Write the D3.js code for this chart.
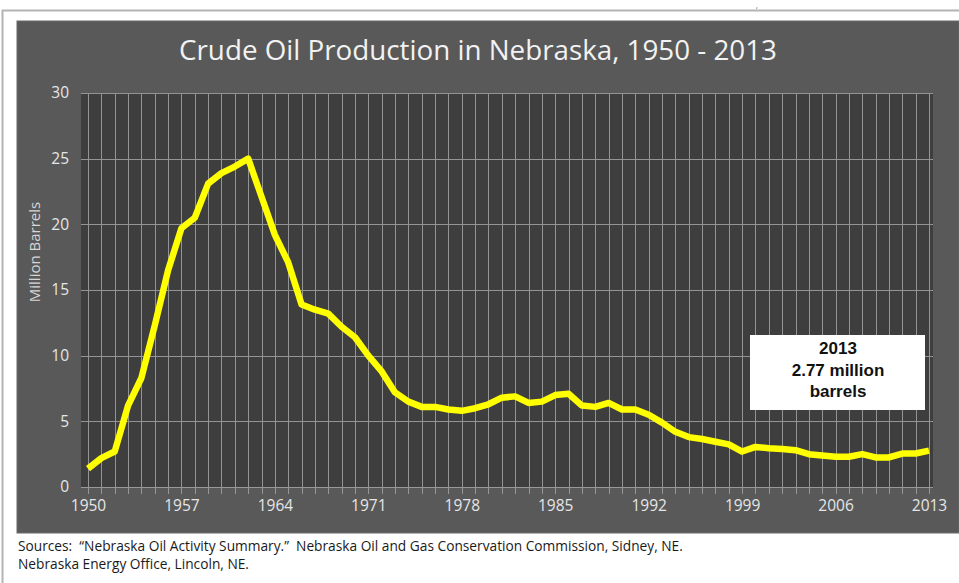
<!DOCTYPE html>
<html>
<head>
<meta charset="utf-8">
<script src="https://cdn.jsdelivr.net/npm/d3@7"></script>
<style>
  html, body { margin: 0; padding: 0; background: #ffffff; }
  svg { display: block; }
  text.pre { white-space: pre; }
</style>
</head>
<body>
<svg id="chart" width="959" height="583"></svg>
<script>
// Annual crude oil production in Nebraska, million barrels
const years = d3.range(1950, 2014);
const production = [
  1.4, 2.2, 2.7, 6.2, 8.3, 12.3, 16.5, 19.7, 20.5, 23.1,
  23.9, 24.4, 25.0, 22.1, 19.2, 17.1, 13.9, 13.5, 13.2, 12.2,
  11.4, 10.0, 8.8, 7.2, 6.5, 6.1, 6.1, 5.9, 5.8, 6.0,
  6.3, 6.8, 6.9, 6.4, 6.5, 7.0, 7.1, 6.2, 6.1, 6.4,
  5.9, 5.9, 5.5, 4.9, 4.2, 3.8, 3.65, 3.45, 3.25, 2.7,
  3.05, 2.95, 2.9, 2.8, 2.5, 2.4, 2.3, 2.3, 2.5, 2.25,
  2.25, 2.55, 2.55, 2.77
];
const yTickValues = [0, 5, 10, 15, 20, 25, 30];
const xTickYears = [1950, 1957, 1964, 1971, 1978, 1985, 1992, 1999, 2006, 2013];
const titleText = "Crude Oil Production in Nebraska, 1950 - 2013";
const yAxisTitle = "Million Barrels";
const calloutYear = 2013;
const calloutValue = production[production.length - 1];
const calloutLines = [String(calloutYear), calloutValue + " million", "barrels"];
const sourceLines = [
  "Sources:  \u201CNebraska Oil Activity Summary.\u201D  Nebraska Oil and Gas Conservation Commission, Sidney, NE.",
  "Nebraska Energy Office, Lincoln, NE."
];

const data = years.map((y, i) => ({ year: y, value: production[i] }));

const svg = d3.select("#chart");

// shrink or grow a text element's font size so it spans a given width
function fitWidth(sel, target) {
  const node = sel.node();
  const size = parseFloat(sel.attr("font-size"));
  const len = node.getComputedTextLength();
  if (len > 0) sel.attr("font-size", (size * target / len).toFixed(2));
  return sel;
}

// page frame
svg.append("path")
  .attr("d", "M2.5,583 L2.5,10.5 L959,10.5")
  .attr("fill", "none")
  .attr("stroke", "#b3b3b3")
  .attr("stroke-width", 2);

svg.append("text")
  .attr("x", 756).attr("y", 8)
  .attr("font-family", "Open Sans, sans-serif")
  .attr("font-size", 7)
  .attr("fill", "#444")
  .text(",");

// chart area
svg.append("rect")
  .attr("x", 17).attr("y", 21)
  .attr("width", 959 - 17).attr("height", 533 - 21)
  .attr("fill", "#595959")
  .attr("stroke", "#6a6a6a")
  .attr("stroke-width", 1);

// scales
const x = d3.scaleLinear().domain([1950, 2013]).range([88, 929]);
const y = d3.scaleLinear().domain([0, 30]).range([487, 93]);

// plot area
svg.append("rect")
  .attr("x", 81).attr("y", y(30))
  .attr("width", 933 - 81).attr("height", y(0) - y(30))
  .attr("fill", "#3e3e3e");

// gridlines
const grid = svg.append("g").attr("stroke", "#a3a3a3").attr("stroke-width", 1).attr("opacity", 0.85);
grid.selectAll("line.v")
  .data(years)
  .join("line")
  .attr("class", "v")
  .attr("x1", d => Math.round(x(d)) + 0.5)
  .attr("x2", d => Math.round(x(d)) + 0.5)
  .attr("y1", y(30))
  .attr("y2", y(0) + 7);
grid.selectAll("line.h")
  .data(yTickValues)
  .join("line")
  .attr("class", "h")
  .attr("x1", 81)
  .attr("x2", 933)
  .attr("y1", d => Math.round(y(d)) + 0.5)
  .attr("y2", d => Math.round(y(d)) + 0.5);

// y axis labels
const yAxis = d3.axisLeft(y).tickValues(yTickValues).tickSize(0).tickPadding(0);
const yG = svg.append("g").attr("transform", "translate(69,0)").call(yAxis);
yG.select(".domain").remove();
yG.selectAll("text")
  .attr("font-family", "Open Sans, sans-serif")
  .attr("font-size", 15.5)
  .attr("fill", "#e6e6e6");

// x axis labels
const xAxis = d3.axisBottom(x).tickValues(xTickYears).tickFormat(d3.format("d")).tickSize(0).tickPadding(0);
const xG = svg.append("g").attr("transform", "translate(0,500)").call(xAxis);
xG.select(".domain").remove();
xG.selectAll("text")
  .attr("dy", "0.71em")
  .attr("font-family", "Open Sans, sans-serif")
  .attr("font-size", 15.5)
  .attr("fill", "#e6e6e6");

// y axis title
svg.append("text")
  .attr("transform", "translate(40,252) rotate(-90)")
  .attr("text-anchor", "middle")
  .attr("font-family", "Open Sans, sans-serif")
  .attr("font-size", 15)
  .attr("fill", "#d6d6d6")
  .text(yAxisTitle);

// production line
const line = d3.line().x(d => x(d.year)).y(d => y(d.value));
svg.append("path")
  .datum(data)
  .attr("d", line)
  .attr("fill", "none")
  .attr("stroke", "#ffff00")
  .attr("stroke-width", 6.5)
  .attr("stroke-linejoin", "round");

// chart title
const title = svg.append("text")
  .attr("x", 478).attr("y", 60)
  .attr("text-anchor", "middle")
  .attr("font-family", "Open Sans, sans-serif")
  .attr("font-size", 26)
  .attr("fill", "#f2f2f2")
  .text(titleText);
fitWidth(title, 598);

// callout box
svg.append("rect")
  .attr("x", 750).attr("y", 335)
  .attr("width", 175).attr("height", 75)
  .attr("fill", "#ffffff");
svg.append("g")
  .selectAll("text")
  .data(calloutLines)
  .join("text")
  .attr("x", 838)
  .attr("y", (d, i) => 354 + i * 21.5)
  .attr("text-anchor", "middle")
  .attr("font-family", "Liberation Sans, Arial, sans-serif")
  .attr("font-weight", "bold")
  .attr("font-size", 17)
  .attr("fill", "#111111")
  .text(d => d);

// sources
const src = svg.append("g")
  .selectAll("text")
  .data(sourceLines)
  .join("text")
  .attr("class", "pre")
  .attr("x", 18)
  .attr("y", (d, i) => 551 + i * 18)
  .attr("font-family", "Open Sans, sans-serif")
  .attr("font-size", 12)
  .attr("fill", "#1a1a1a")
  .text(d => d);
const first = d3.select(src.nodes()[0]);
fitWidth(first, 665);
src.attr("font-size", first.attr("font-size"));
</script>
</body>
</html>
